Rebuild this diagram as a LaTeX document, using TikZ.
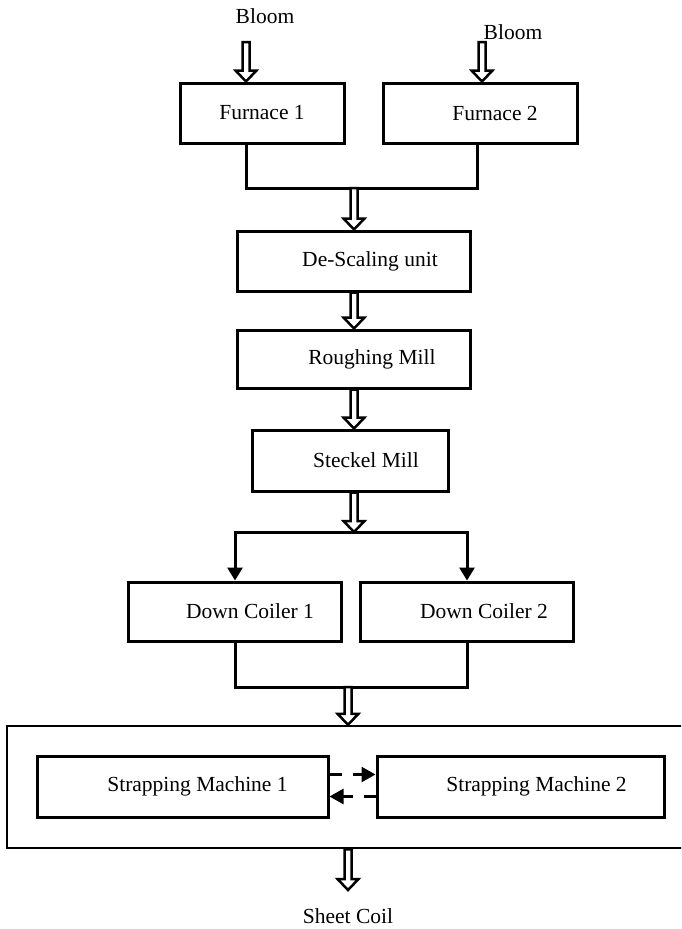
\documentclass[tikz,border=0pt]{standalone}
\usepackage{fontspec}
\setmainfont{Liberation Serif}
\usetikzlibrary{arrows.meta, calc}

\tikzset{
	unit/.style={draw, line width=3pt, minimum height=60pt, inner sep=0pt},
	group/.style={draw, line width=2.5pt},
	wire/.style={line width=3pt},
	feed/.style={wire, -{Triangle[length=13pt, width=15pt]}},
	hollow/.style={draw, fill=white, line width=2.5pt, line join=miter},
	swap/.style={line width=2.5pt, dash pattern=on 12pt off 11pt, -{Triangle[length=14pt, width=15pt]}},
}

% hollow block arrow pointing down from #1 to #2
\newcommand{\hollowarrow}[2]{%
	\draw[hollow] ($(#1)+(-3.5,0)$) -- ($(#2)+(-3.5,-11)$) -- ($(#2)+(-10.5,-11)$) -- (#2)
		-- ($(#2)+(10.5,-11)$) -- ($(#2)+(3.5,-11)$) -- ($(#1)+(3.5,0)$) -- cycle;}

\begin{document}
\begin{tikzpicture}[x=1pt, y=-1pt, font=\fontsize{21.5}{25}\selectfont]
	\clip (0,0) rectangle (681,929);
	% Paths, nodes and wires:
	\node (bloom1) at (265,16) {Bloom};
	\node (bloom2) at (513,32) {Bloom};
	\coordinate (in1) at (246,42);
	\coordinate (in2) at (482,42);
	\node[unit, minimum width=164pt](f1) at (262,113) {Furnace 1};
	\node[unit, minimum width=194pt](f2) at (480,113) {\hspace*{30pt}Furnace 2};
	\coordinate (in1e) at (in1 |- f1.north);
	\coordinate (in2e) at (in2 |- f2.north);
	\hollowarrow{in1}{in1e}
	\hollowarrow{in2}{in2e}
	\coordinate (join1) at (354,188);
	\draw[wire] ([xshift=-16pt]f1.south) |- (join1) -| ([xshift=-3pt]f2.south);
	\node[unit, minimum width=233pt](desc) at (354,261) {\hspace*{32pt}De-Scaling unit};
	\hollowarrow{join1}{desc.north}
	\node[unit, minimum width=233pt, minimum height=58pt](rough) at (354,359) {\hspace*{36pt}Roughing Mill};
	\hollowarrow{desc.south}{rough.north}
	\node[unit, minimum width=196pt, minimum height=61pt](steckel) at (350,460.5) {\hspace*{32pt}Steckel Mill};
	\coordinate (stn) at (steckel.north -| rough.south);
	\hollowarrow{rough.south}{stn}
	\coordinate (split) at (354,532);
	\coordinate (sts) at (steckel.south -| split);
	\hollowarrow{sts}{split}
	\node[unit, minimum width=213pt, minimum height=59pt](dc1) at (235,611.5) {\hspace*{30pt}Down Coiler 1};
	\node[unit, minimum width=213pt, minimum height=59pt](dc2) at (467,611.5) {\hspace*{34pt}Down Coiler 2};
	\draw[feed] (split) -| (dc1.north);
	\draw[feed] (split) -| (dc2.north);
	\coordinate (join2) at (348,687);
	\draw[wire] (dc1.south) |- (join2) -| (dc2.south);
	\node[group, minimum width=700pt, minimum height=122pt](strap) at (357,787) {};
	\coordinate (strapn) at (strap.north -| join2);
	\hollowarrow{join2}{strapn}
	\node[unit, minimum width=291pt, minimum height=61pt](sm1) at (182.5,786.5) {\hspace*{30pt}Strapping Machine 1};
	\node[unit, minimum width=287pt, minimum height=61pt](sm2) at (520.5,786.5) {\hspace*{32pt}Strapping Machine 2};
	\draw[swap] ([yshift=12pt]sm1.east) -- ([yshift=12pt]sm2.west);
	\draw[swap] ([yshift=-10pt]sm2.west) -- ([yshift=-10pt]sm1.east);
	\coordinate (straps) at (strap.south -| join2);
	\coordinate (out) at (348,890);
	\hollowarrow{straps}{out}
	\node (coil) at (348,916) {Sheet Coil};
\end{tikzpicture}
\end{document}
